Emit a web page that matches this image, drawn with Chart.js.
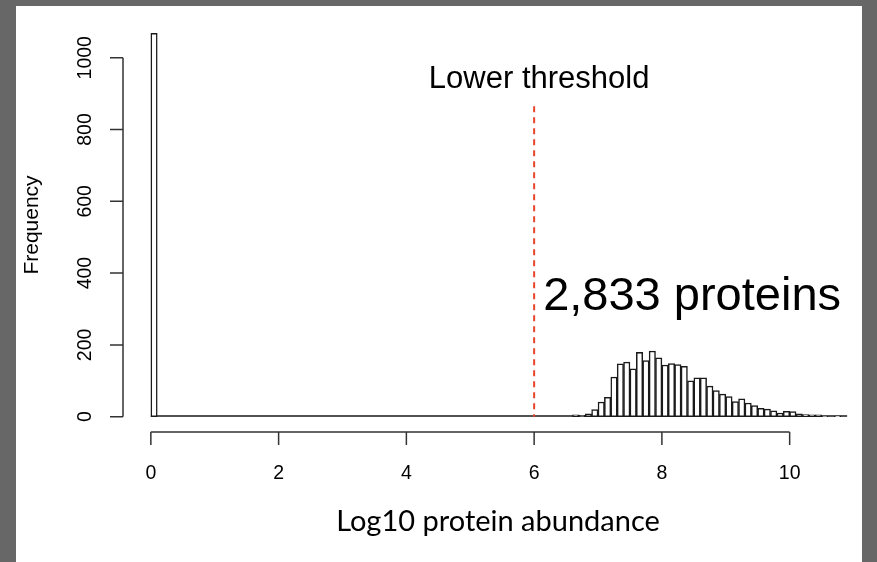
<!DOCTYPE html>
<html>
<head>
<meta charset="utf-8">
<script src="https://cdn.jsdelivr.net/npm/chart.js@4/dist/chart.umd.min.js"></script>
<style>
    html, body { margin: 0; padding: 0; background: #676767; overflow: hidden; }
    #panel { position: absolute; left: 16px; top: 6px; width: 846px; height: 556px; background: #fff; }
    #wrap { position: absolute; left: 0; top: 0; width: 877px; height: 562px; }
</style>
</head>
<body>
<div id="panel"></div>
<div id="wrap"><canvas id="histChart" width="877" height="562"></canvas></div>
<script>
// histogram bins: width 0.1, first bin starts at 0
var binStart = 0;
var binWidth = 0.1;
var counts = [
    1068,
    0, 0, 0, 0, 0, 0, 0, 0, 0, 0, 0, 0, 0, 0, 0, 0, 0, 0, 0, 0, 0, 0, 0, 0, 0, 0, 0, 0, 0, 0, 0, 0, 0, 0, 0, 0, 0, 0, 0, 0, 0, 0, 0, 0, 0, 0, 0, 0, 0, 0, 0, 0, 0, 0, 0, 0, 0, 0, 0, 0, 0, 0, 0, 0, 0,
    5, 4, 8, 20,
    41, 54, 110, 147, 152, 133, 179, 156, 183, 164,
    144, 148, 145, 140, 100, 108, 108, 85, 73, 63,
    56, 42, 50, 38, 31, 23, 21, 16, 10, 15,
    14, 8, 6, 5, 5, 1, 0, 2, 0
];
var xTicks = [0, 2, 4, 6, 8, 10];
var yTicks = [0, 200, 400, 600, 800, 1000];
var threshold = 6;
var thresholdTop = 865;
var thresholdLabel = 'Lower threshold';
var countLabel = '2,833 proteins';
var xTitle = 'Log10 protein abundance';
var yTitle = 'Frequency';

var points = [];
for (var i = 0; i < counts.length; i++) {
    points.push({ x: binStart + (i + 0.5) * binWidth, y: counts[i] });
}
var lastEdge = binStart + counts.length * binWidth;

var axisColor = '#333';
var tickFont = '19.5px "Liberation Sans", Arial, sans-serif';

var rAxes = {
    id: 'rAxes',
    beforeDatasetsDraw: function (chart) {
        var ctx = chart.ctx, x = chart.scales.x, y = chart.scales.y;
        ctx.save();
        ctx.strokeStyle = '#1a1a1a';
        ctx.lineWidth = 1.5;
        ctx.beginPath();
        ctx.moveTo(x.getPixelForValue(binStart), y.getPixelForValue(0) - 0.75);
        ctx.lineTo(x.getPixelForValue(lastEdge), y.getPixelForValue(0) - 0.75);
        ctx.stroke();
        ctx.restore();
    },
    afterDraw: function (chart) {
        var ctx = chart.ctx, x = chart.scales.x, y = chart.scales.y;
        var area = chart.chartArea;
        ctx.save();
        ctx.strokeStyle = axisColor;
        ctx.lineWidth = 1.5;
        ctx.fillStyle = '#000';

        // x axis
        var ay = area.bottom;
        ctx.beginPath();
        ctx.moveTo(x.getPixelForValue(xTicks[0]), ay);
        ctx.lineTo(x.getPixelForValue(xTicks[xTicks.length - 1]), ay);
        xTicks.forEach(function (t) {
            var px = x.getPixelForValue(t);
            ctx.moveTo(px, ay);
            ctx.lineTo(px, ay + 13);
        });
        ctx.stroke();
        ctx.font = tickFont;
        ctx.textAlign = 'center';
        ctx.textBaseline = 'alphabetic';
        xTicks.forEach(function (t) {
            ctx.fillText(String(t), x.getPixelForValue(t), 479);
        });

        // y axis
        var ax = area.left;
        ctx.beginPath();
        ctx.moveTo(ax, y.getPixelForValue(yTicks[0]));
        ctx.lineTo(ax, y.getPixelForValue(yTicks[yTicks.length - 1]));
        yTicks.forEach(function (t) {
            var py = y.getPixelForValue(t);
            ctx.moveTo(ax, py);
            ctx.lineTo(ax - 13, py);
        });
        ctx.stroke();
        yTicks.forEach(function (t) {
            ctx.save();
            ctx.translate(91, y.getPixelForValue(t));
            ctx.rotate(-Math.PI / 2);
            ctx.fillText(String(t), 0, 0);
            ctx.restore();
        });

        // axis titles
        ctx.save();
        ctx.translate(38, 225);
        ctx.rotate(-Math.PI / 2);
        ctx.font = '21px "Liberation Sans", Arial, sans-serif';
        ctx.fillText(yTitle, 0, 0);
        ctx.restore();

        ctx.font = '29px Lato, "Open Sans", sans-serif';
        ctx.fillText(xTitle, 498, 531);

        // threshold line
        var tx = x.getPixelForValue(threshold);
        ctx.strokeStyle = '#e8452c';
        ctx.lineWidth = 2;
        ctx.setLineDash([6, 5]);
        ctx.beginPath();
        ctx.moveTo(tx, y.getPixelForValue(thresholdTop));
        ctx.lineTo(tx, y.getPixelForValue(0));
        ctx.stroke();
        ctx.setLineDash([]);

        ctx.font = '31px "Liberation Sans", Arial, sans-serif';
        ctx.textAlign = 'center';
        ctx.fillText(thresholdLabel, tx + 5, 88);

        ctx.font = '47px "Liberation Sans", Arial, sans-serif';
        ctx.textAlign = 'left';
        ctx.fillText(countLabel, tx + 9, 310);
        ctx.restore();
    }
};

var histChart = new Chart(document.getElementById('histChart'), {
    type: 'bar',
    data: {
        datasets: [{
            label: yTitle,
            data: points,
            backgroundColor: '#fff',
            borderColor: '#1a1a1a',
            borderWidth: 1.5,
            borderSkipped: false,
            barPercentage: 1,
            categoryPercentage: 1
        }]
    },
    options: {
        responsive: false,
        animation: false,
        layout: { padding: { left: 123, right: 2, top: 18, bottom: 130 } },
        plugins: { legend: { display: false }, tooltip: { enabled: false } },
        scales: {
            x: { type: 'linear', display: false, min: -0.436, max: 11.336, offset: false },
            y: { type: 'linear', display: false, min: -42.7, max: 1110.7 }
        }
    },
    plugins: [rAxes]
});
</script>
</body>
</html>
